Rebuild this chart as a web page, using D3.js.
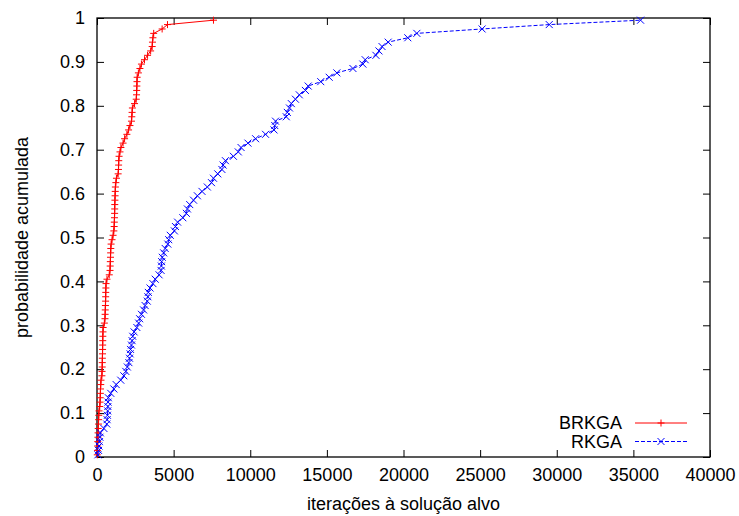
<!DOCTYPE html>
<html>
<head>
<meta charset="utf-8">
<script src="https://cdn.jsdelivr.net/npm/d3@7"></script>
<style>
  body { margin: 0; background: #fff; }
  svg { display: block; font-family: "Liberation Sans", Arial, sans-serif; }
</style>
</head>
<body>
<svg id="chart"></svg>
<script>
// iterations to target, sorted, 100 runs each
var brkga = [20, 30, 40, 50, 60, 70, 80, 95, 105, 115, 130,
    180, 200, 210, 220, 230, 245, 260,
    320, 330, 340, 345, 350, 360, 365, 370, 375, 380, 390, 400,
    480, 520, 530, 540, 550, 560, 565, 570, 580, 590, 650,
    800, 850, 860, 870, 880, 890, 900, 920, 980,
    1050, 1100, 1120, 1130, 1140, 1150, 1155, 1160, 1170, 1180, 1190, 1200,
    1230, 1270, 1380, 1400, 1410, 1420, 1440, 1500, 1560,
    1700, 1800, 1950, 2060, 2150, 2250, 2270, 2290, 2310,
    2450, 2560, 2580, 2590, 2600, 2610, 2620, 2700, 2800, 2900,
    3100, 3300, 3500, 3600, 3620, 3650, 3700, 4250, 4600, 7600];
var rkga = [60, 100, 130, 160, 190, 220, 450,
    640, 660, 680, 700, 710, 720, 740, 900, 1100, 1250, 1550, 1750, 1880,
    1980, 2080, 2120, 2160, 2190, 2250, 2290, 2330, 2420, 2600,
    2720, 2780, 2900, 3040, 3140, 3280, 3320, 3350, 3460, 3650,
    3800, 4050, 4180, 4200, 4220, 4260, 4350, 4450, 4620, 4680,
    4780, 5050, 5120, 5260, 5600, 5830, 5900, 6050, 6300, 6550,
    6850, 7200, 7470, 7600, 7880, 8150, 8230, 8380, 8900, 9220,
    9400, 9850, 10350, 11000, 11550, 11600, 11650, 12350, 12420, 12560,
    12680, 12950, 13200, 13600, 13780, 14600, 15150, 15650, 16700, 17350,
    17500, 18200, 18400, 18600, 19000, 20280, 20870, 25130, 29510, 35470];
var xTicks = [0, 5000, 10000, 15000, 20000, 25000, 30000, 35000, 40000];
var yTicks = [0, 0.1, 0.2, 0.3, 0.4, 0.5, 0.6, 0.7, 0.8, 0.9, 1];

var width = 739, height = 516;
var margin = {top: 18, right: 29, bottom: 59, left: 97};
var w = width - margin.left - margin.right;
var h = height - margin.top - margin.bottom;
var fs = 18;

var svg = d3.select('#chart').attr('width', width).attr('height', height);
var g = svg.append('g').attr('transform', 'translate(' + margin.left + ',' + margin.top + ')');

var x = d3.scaleLinear().domain([0, 40000]).range([0, w]);
var y = d3.scaleLinear().domain([0, 1]).range([h, 0]);

// cumulative probability (i - 0.5) / n
function toPoints(arr) {
    return arr.map(function (d, i) { return {x: d, p: (i + 0.5) / arr.length}; });
}

var tk = 7;
function styleAxis(sel) {
    sel.select('.domain').remove();
    sel.selectAll('line').attr('stroke', '#000');
    sel.selectAll('text').attr('font-size', fs).attr('fill', '#000');
}
g.append('g').attr('transform', 'translate(0,' + h + ')')
    .call(d3.axisBottom(x).tickValues(xTicks).tickFormat(d3.format('d')).tickSizeInner(-tk).tickPadding(11))
    .call(styleAxis);
g.append('g')
    .call(d3.axisTop(x).tickValues(xTicks).tickFormat('').tickSizeInner(-tk))
    .call(styleAxis);
g.append('g')
    .call(d3.axisLeft(y).tickValues(yTicks).tickFormat(function (d) { return d3.format('')(+d.toFixed(1)); })
        .tickSizeInner(-tk).tickPadding(12))
    .call(styleAxis);
g.append('g').attr('transform', 'translate(' + w + ',0)')
    .call(d3.axisRight(y).tickValues(yTicks).tickFormat('').tickSizeInner(-tk))
    .call(styleAxis);

g.append('rect').attr('width', w).attr('height', h)
    .attr('fill', 'none').attr('stroke', '#000').attr('stroke-width', 1.3);

var line = d3.line().x(function (d) { return x(d.x); }).y(function (d) { return y(d.p); });
var ms = 3.5;

function drawSeries(data, color, dash, marker) {
    var pts = toPoints(data);
    g.append('path').datum(pts).attr('d', line)
        .attr('fill', 'none').attr('stroke', color).attr('stroke-width', 1)
        .attr('stroke-dasharray', dash);
    g.append('g').selectAll('path').data(pts).enter().append('path')
        .attr('transform', function (d) { return 'translate(' + x(d.x) + ',' + y(d.p) + ')'; })
        .attr('d', marker)
        .attr('stroke', color).attr('stroke-width', 1).attr('fill', 'none');
}
var plus = 'M' + (-ms) + ',0H' + ms + 'M0,' + (-ms) + 'V' + ms;
var cross = 'M' + (-ms) + ',' + (-ms) + 'L' + ms + ',' + ms + 'M' + (-ms) + ',' + ms + 'L' + ms + ',' + (-ms);

drawSeries(brkga, '#ff0000', null, plus);
drawSeries(rkga, '#0000ff', '4,2', cross);

// legend
var legend = [
    {name: 'BRKGA', color: '#ff0000', dash: null, marker: plus},
    {name: 'RKGA', color: '#0000ff', dash: '4,2', marker: cross}
];
var lg = svg.append('g');
legend.forEach(function (d, i) {
    var ly = 423 + i * 18.5;
    lg.append('text').attr('x', 622).attr('y', ly).attr('dy', '0.35em')
        .attr('text-anchor', 'end').attr('font-size', fs).text(d.name);
    lg.append('line').attr('x1', 635).attr('x2', 687).attr('y1', ly).attr('y2', ly)
        .attr('stroke', d.color).attr('stroke-dasharray', d.dash);
    lg.append('path').attr('transform', 'translate(661,' + ly + ')').attr('d', d.marker)
        .attr('stroke', d.color).attr('fill', 'none');
});

svg.append('text').attr('x', margin.left + w / 2).attr('y', 510)
    .attr('text-anchor', 'middle').attr('font-size', fs).text('iterações à solução alvo');
svg.append('text').attr('transform', 'translate(22,' + (margin.top + h / 2) + ') rotate(-90)')
    .attr('text-anchor', 'middle').attr('dy', '0.35em').attr('font-size', fs).text('probabilidade acumulada');
</script>
</body>
</html>
